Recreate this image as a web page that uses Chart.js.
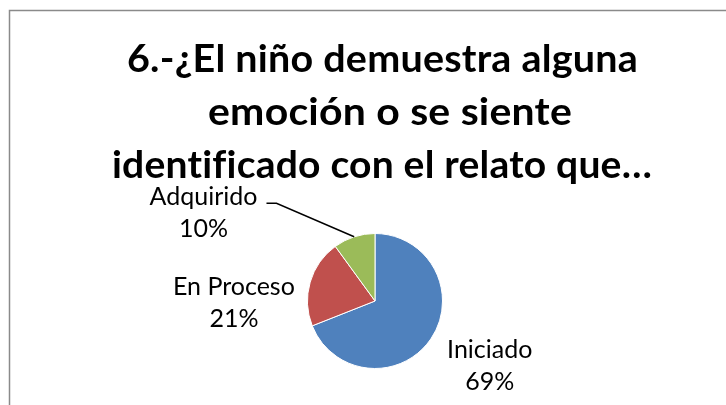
<!DOCTYPE html>
<html>
<head>
<meta charset="utf-8">
<script src="https://cdn.jsdelivr.net/npm/chart.js@4.4.1/dist/chart.umd.min.js"></script>
<style>
html,body{margin:0;padding:0;background:#fff;}
canvas{display:block;}
</style>
</head>
<body>
<canvas id="chart_pie" width="726" height="405"></canvas>
<script>
const titleLines = ['6.-¿El niño demuestra alguna', 'emoción o se siente', 'identificado con el relato que…'];
const categories = ['Iniciado', 'En Proceso', 'Adquirido'];
const values = [69, 21, 10];
const colors = ['#4F81BD', '#C0504D', '#9BBB59'];

// where Excel put each label, in pie radii from the centre
const labelPos = [{dx:1.70, dy:0.97}, {dx:-2.09, dy:0.03}, {dx:-2.54, dy:-1.30, leader:true}];
// title lines: left edge and width as set by the original (Calibri is narrow)
const titleBox = [{x:127, w:511}, {x:208, w:364}, {x:112, w:540}];

function fitText(ctx, t, x, y, w){
  const m = ctx.measureText(t).width;
  ctx.save();
  ctx.translate(x, y);
  ctx.scale(w/m, 1);
  ctx.textAlign = 'left';
  ctx.fillText(t, 0, 0);
  ctx.restore();
}

const excelDeco = {
  id: 'excelDeco',
  beforeDraw(chart){
    const ctx = chart.ctx;
    ctx.save();
    ctx.strokeStyle = '#8a8a8a';
    ctx.lineWidth = 1.5;
    ctx.strokeRect(9.5, 10.5, 800, 500);
    ctx.restore();
  },
  afterDraw(chart){
    const ctx = chart.ctx;
    ctx.save();
    ctx.fillStyle = '#000';
    ctx.textBaseline = 'alphabetic';
    ctx.font = 'bold 38px Lato';
    ctx.letterSpacing = '0.2px'; // no "fi" ligature, Calibri draws it plain here
    titleLines.forEach((t,i) => fitText(ctx, t, titleBox[i].x, 72 + 53*i, titleBox[i].w));
    ctx.letterSpacing = '0px';

    const total = values.reduce((a,b) => a+b, 0);
    ctx.font = '25px Lato';
    chart.getDatasetMeta(0).data.forEach((arc,i) => {
      const {x, y, outerRadius:r, startAngle, endAngle} = arc.getProps(['x','y','outerRadius','startAngle','endAngle'], true);
      const p = labelPos[i];
      const lx = x + p.dx*r, ly = y + p.dy*r;
      ctx.textAlign = 'center';
      ctx.fillText(categories[i], lx, ly - 8);
      ctx.fillText(Math.round(values[i]/total*100) + '%', lx, ly + 24);
      if(p.leader){
        const mid = (startAngle + endAngle)/2;
        const ex = x + Math.cos(mid)*r, ey = y + Math.sin(mid)*r;
        const sx = lx + ctx.measureText(categories[i]).width/2 + 9, sy = ly - 10;
        ctx.beginPath();
        ctx.moveTo(sx, sy);
        ctx.lineTo(sx + 10, sy);
        ctx.lineTo(ex, ey);
        ctx.strokeStyle = '#000';
        ctx.lineWidth = 1.5;
        ctx.stroke();
      }
    });
    ctx.restore();
  }
};

new Chart(document.getElementById('chart_pie'), {
  type: 'pie',
  data: {
    labels: categories,
    datasets: [{ data: values, backgroundColor: colors, borderColor: '#fff', borderWidth: 1 }]
  },
  options: {
    responsive: false,
    animation: false,
    layout: { padding: { left: 307, right: 283, top: 233, bottom: 36 } },
    plugins: { legend: { display: false }, tooltip: { enabled: false }, title: { display: false } }
  },
  plugins: [excelDeco]
});
</script>
</body>
</html>
